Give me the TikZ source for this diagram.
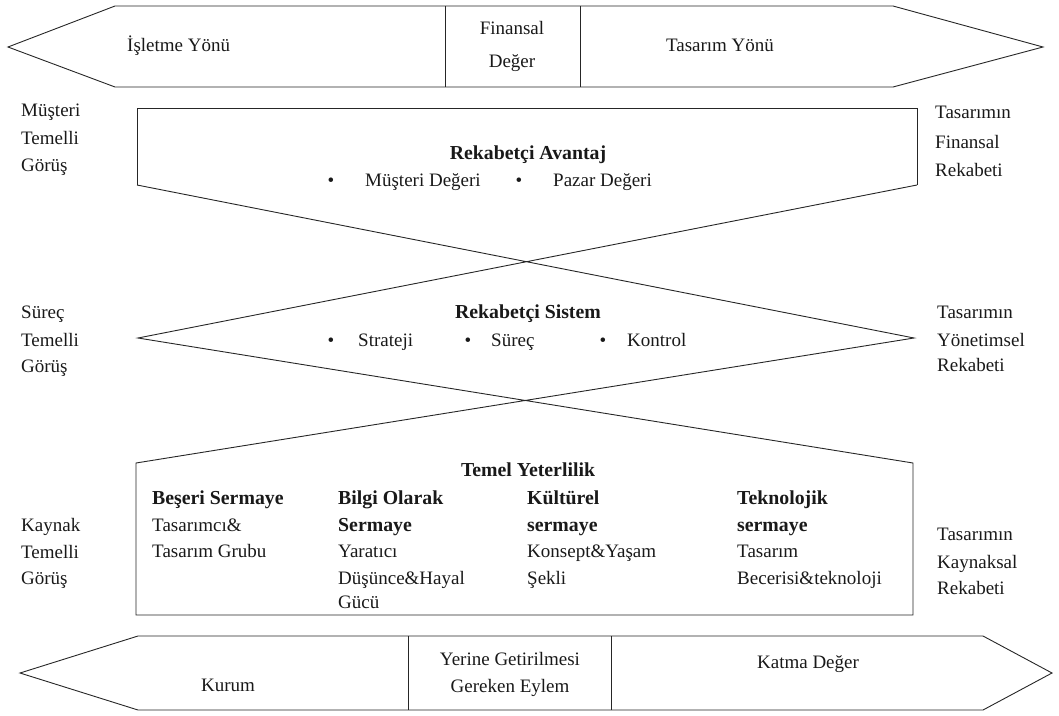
\documentclass[tikz,border=0pt]{standalone}
\usepackage{fontspec}
\setmainfont{Liberation Serif}
\begin{document}
\begin{tikzpicture}[x=1pt,y=-1pt,
  outline/.style={draw=black!85,line width=0.9pt,line join=miter},
  txt/.style={font=\fontsize{19}{26}\selectfont,text=black!90,inner sep=0pt},
  hd/.style={txt,font=\fontsize{19.8}{26}\selectfont\bfseries},
  side/.style={txt,anchor=base west},
]
\useasboundingbox (0,0) rectangle (1059,715);

% ---- top band ----
\coordinate (tL) at (8,47);   \coordinate (tA) at (115,6);
\coordinate (tB) at (893,6);  \coordinate (tR) at (1043,47);
\coordinate (tC) at (893,87); \coordinate (tD) at (115,87);
\draw[outline] (tL) -- (tA) -- (tB) -- (tR) -- (tC) -- (tD) -- cycle;
\coordinate (tv1a) at (445,6); \coordinate (tv1b) at (445,87);
\coordinate (tv2a) at (580,6); \coordinate (tv2b) at (580,87);
\draw[outline] (tv1a) -- (tv1b) (tv2a) -- (tv2b);
\node[txt,anchor=base west] (isl) at (127,51) {İşletme Yönü};
\node[txt,anchor=base] (fin1) at (512,34) {Finansal};
\node[txt,anchor=base] (fin2) at (512,67) {Değer};
\node[txt,anchor=base] (tas) at (720,51) {Tasarım Yönü};

% ---- crossing frame ----
\coordinate (A1) at (137,108); \coordinate (A2) at (917,108);
\coordinate (A3) at (917,185); \coordinate (A4) at (137,185);
\coordinate (DL) at (138,338); \coordinate (DR) at (914,338);
\coordinate (B1) at (136,463); \coordinate (B2) at (913,463);
\coordinate (B3) at (913,615); \coordinate (B4) at (136,615);
\draw[outline] (A4) -- (A1) -- (A2) -- (A3);
\draw[outline] (A4) -- (DR) -- (B1) -- (B4) -- (B3) -- (B2) -- (DL) -- (A3);

% ---- competitive advantage ----
\node[hd,anchor=base] (ra) at (528,159) {Rekabetçi Avantaj};
\node[txt,anchor=base] (b1) at (331,186) {•};
\node[txt,anchor=base west] (md) at (365,186) {Müşteri Değeri};
\node[txt,anchor=base] (b2) at (519,186) {•};
\node[txt,anchor=base west] (pd) at (553,186) {Pazar Değeri};

% ---- competitive system ----
\node[hd,anchor=base] (rs) at (528,318) {Rekabetçi Sistem};
\node[txt,anchor=base] (b3) at (331,346) {•};
\node[txt,anchor=base west] (st) at (358,346) {Strateji};
\node[txt,anchor=base] (b4) at (468,346) {•};
\node[txt,anchor=base west] (sr) at (491,346) {Süreç};
\node[txt,anchor=base] (b5) at (603,346) {•};
\node[txt,anchor=base west] (ko) at (627,346) {Kontrol};

% ---- core competence ----
\node[hd,anchor=base] (ty) at (528,476) {Temel Yeterlilik};
\node[hd,anchor=base west] (c1a) at (152,504) {Beşeri Sermaye};
\node[txt,anchor=base west] (c1b) at (152,531) {Tasarımcı\&};
\node[txt,anchor=base west] (c1c) at (152,557) {Tasarım Grubu};
\node[hd,anchor=base west] (c2a) at (338,504) {Bilgi Olarak};
\node[hd,anchor=base west] (c2b) at (338,531) {Sermaye};
\node[txt,anchor=base west] (c2c) at (338,557) {Yaratıcı};
\node[txt,anchor=base west] (c2d) at (338,584) {Düşünce\&Hayal};
\node[txt,anchor=base west] (c2e) at (338,608) {Gücü};
\node[hd,anchor=base west] (c3a) at (527,504) {Kültürel};
\node[hd,anchor=base west] (c3b) at (527,531) {sermaye};
\node[txt,anchor=base west] (c3c) at (527,557) {Konsept\&Yaşam};
\node[txt,anchor=base west] (c3d) at (527,584) {Şekli};
\node[hd,anchor=base west] (c4a) at (737,504) {Teknolojik};
\node[hd,anchor=base west] (c4b) at (737,531) {sermaye};
\node[txt,anchor=base west] (c4c) at (737,557) {Tasarım};
\node[txt,anchor=base west] (c4d) at (737,584) {Becerisi\&teknoloji};

% ---- side labels ----
\node[side] (l11) at (21,116) {Müşteri};
\node[side] (l12) at (21,144) {Temelli};
\node[side] (l13) at (21,171) {Görüş};
\node[side] (l21) at (21,318) {Süreç};
\node[side] (l22) at (21,346) {Temelli};
\node[side] (l23) at (21,372) {Görüş};
\node[side] (l31) at (21,531) {Kaynak};
\node[side] (l32) at (21,558) {Temelli};
\node[side] (l33) at (21,584) {Görüş};
\node[side] (r11) at (935,118) {Tasarımın};
\node[side] (r12) at (935,148) {Finansal};
\node[side] (r13) at (935,176) {Rekabeti};
\node[side] (r21) at (937,318) {Tasarımın};
\node[side] (r22) at (937,346) {Yönetimsel};
\node[side] (r23) at (937,371) {Rekabeti};
\node[side] (r31) at (937,540) {Tasarımın};
\node[side] (r32) at (937,568) {Kaynaksal};
\node[side] (r33) at (937,594) {Rekabeti};

% ---- bottom band ----
\coordinate (bL) at (20,673);  \coordinate (bA) at (138,636);
\coordinate (bB) at (983,636); \coordinate (bR) at (1052,673);
\coordinate (bC) at (983,710); \coordinate (bD) at (138,710);
\draw[outline] (bL) -- (bA) -- (bB) -- (bR) -- (bC) -- (bD) -- cycle;
\coordinate (bv1a) at (408,636); \coordinate (bv1b) at (408,710);
\coordinate (bv2a) at (611,636); \coordinate (bv2b) at (611,710);
\draw[outline] (bv1a) -- (bv1b) (bv2a) -- (bv2b);
\node[txt,anchor=base] (kur) at (228,691) {Kurum};
\node[txt,anchor=base] (yg1) at (510,665) {Yerine Getirilmesi};
\node[txt,anchor=base] (yg2) at (510,692) {Gereken Eylem};
\node[txt,anchor=base] (kd) at (808,668) {Katma Değer};
\end{tikzpicture}
\end{document}
